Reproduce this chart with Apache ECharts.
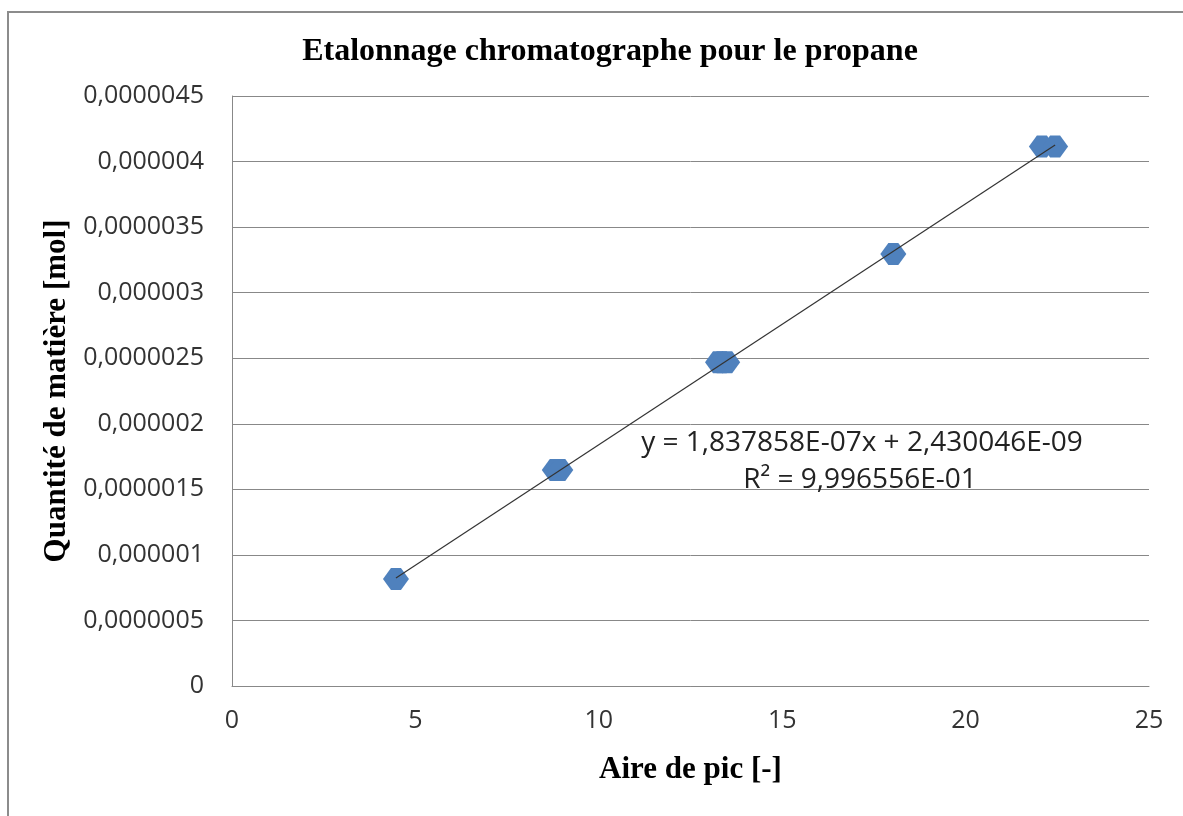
<!DOCTYPE html>
<html>
<head>
<meta charset="utf-8">
<script src="https://cdn.jsdelivr.net/npm/echarts@6/dist/echarts.min.js"></script>
<style>
html,body{margin:0;padding:0;background:#fff;}
#chart{width:1183px;height:816px;}
</style>
</head>
<body>
<div id="chart"></div>
<script>
// Data
var aireDePic = [4.47, 8.80, 8.95, 13.25, 13.35, 13.50, 18.03, 22.08, 22.44];
var quantite = [0.816e-6, 1.648e-6, 1.648e-6, 2.470e-6, 2.470e-6, 2.470e-6, 3.295e-6, 4.115e-6, 4.115e-6];
var trendSlope = [1.837858e-7];
var trendIntercept = [2.430046e-9];
var yTickLabels = ['0', '0,0000005', '0,000001', '0,0000015', '0,000002', '0,0000025', '0,000003', '0,0000035', '0,000004', '0,0000045'];
var xTickLabels = ['0', '5', '10', '15', '20', '25'];
var titleText = 'Etalonnage chromatographe pour le propane';
var xName = 'Aire de pic [-]';
var yName = 'Quantité de matière [mol]';
var eqLines = ['y = 1,837858E-07x + 2,430046E-09', 'R² = 9,996556E-01'];

var points = aireDePic.map(function (x, i) { return [x, quantite[i]]; });
var xmin = Math.min.apply(null, aireDePic);
var xmax = Math.max.apply(null, aireDePic);
var trend = [[xmin, trendSlope[0] * xmin + trendIntercept[0]], [xmax, trendSlope[0] * xmax + trendIntercept[0]]];

var chart = echarts.init(document.getElementById('chart'), null, {renderer: 'canvas'});
var gridColor = '#888888';
var serif = '"Liberation Serif", "Times New Roman", serif';
var sans = '"Open Sans", "Noto Sans", sans-serif';

chart.setOption({
  backgroundColor: '#ffffff',
  animation: false,
  grid: {left: 232, right: 34, top: 96, bottom: 130, containLabel: false},
  xAxis: {
    type: 'value', min: 0, max: 25, interval: 5,
    name: xName, nameLocation: 'middle', nameGap: 68,
    nameTextStyle: {fontFamily: serif, fontWeight: 'bold', fontSize: 31, color: '#000'},
    axisLine: {show: true, lineStyle: {color: gridColor, width: 1}},
    axisTick: {show: false},
    splitLine: {show: false},
    axisLabel: {
      fontFamily: sans, fontSize: 25, color: '#333', margin: 22,
      formatter: function (v) { return xTickLabels[Math.round(v / 5)]; }
    }
  },
  yAxis: {
    type: 'value', min: 0, max: 4.5e-6, interval: 0.5e-6,
    name: yName, nameLocation: 'middle', nameGap: 158, nameRotate: 90,
    nameTextStyle: {fontFamily: serif, fontWeight: 'bold', fontSize: 31, color: '#000'},
    axisLine: {show: true, lineStyle: {color: gridColor, width: 1}},
    axisTick: {show: false},
    splitLine: {show: true, lineStyle: {color: gridColor, width: 1}},
    axisLabel: {
      fontFamily: sans, fontSize: 25, color: '#333', margin: 28,
      formatter: function (v) { return yTickLabels[Math.round(v / 0.5e-6)]; }
    }
  },
  series: [
    {
      type: 'line', data: trend, symbol: 'none', z: 3,
      lineStyle: {color: '#333333', width: 1.2}, silent: true
    },
    {
      type: 'scatter', data: points, z: 2,
      symbol: 'path://M8,0 L18,0 L26,11 L18,22 L8,22 L0,11 Z',
      symbolSize: [26, 22],
      itemStyle: {color: '#4F81BD', opacity: 1}
    }
  ],
  graphic: [
    {type: 'rect', shape: {x: 8, y: 12, width: 1400, height: 1000}, style: {fill: 'none', stroke: '#8c8c8c', lineWidth: 2}, silent: true, z: 10},
    {type: 'text', x: 610, y: 52, style: {text: titleText, font: 'bold 32px ' + serif, fill: '#000', textAlign: 'center', textVerticalAlign: 'middle'}, z: 10},
    {type: 'text', x: 862, y: 443, style: {text: eqLines[0], font: '28px ' + sans, fill: '#222', textAlign: 'center', textVerticalAlign: 'middle'}, z: 10},
    {type: 'text', x: 860, y: 480, style: {text: eqLines[1], font: '28px ' + sans, fill: '#222', textAlign: 'center', textVerticalAlign: 'middle'}, z: 10}
  ]
});
</script>
</body>
</html>
